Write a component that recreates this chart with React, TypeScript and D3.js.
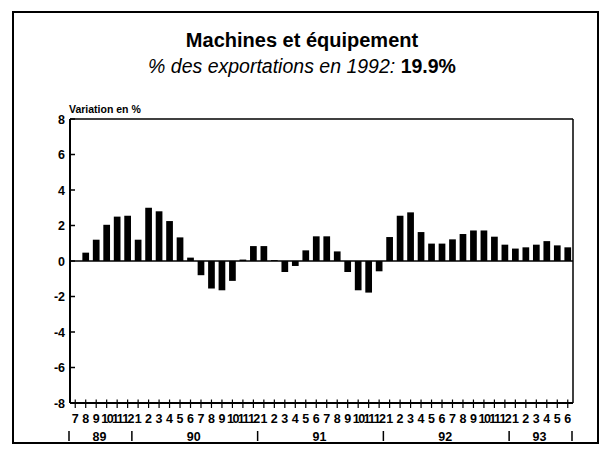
import React from "react";
import * as d3 from "d3";

// monthly % change, Jul 89 .. Jun 93 (Jul 89 has no bar)
const months = [
  "7", "8", "9", "10", "11", "12",
  "1", "2", "3", "4", "5", "6", "7", "8", "9", "10", "11", "12",
  "1", "2", "3", "4", "5", "6", "7", "8", "9", "10", "11", "12",
  "1", "2", "3", "4", "5", "6", "7", "8", "9", "10", "11", "12",
  "1", "2", "3", "4", "5", "6",
];
const values: (number | null)[] = [
  null, 0.47, 1.2, 2.04, 2.5, 2.55,
  1.2, 3.0, 2.8, 2.25, 1.33, 0.19, -0.8, -1.55, -1.65, -1.12, 0.08, 0.84,
  0.84, 0.05, -0.62, -0.28, 0.6, 1.39, 1.39, 0.54, -0.62, -1.65, -1.78, -0.58,
  1.35, 2.55, 2.74, 1.63, 0.98, 0.98, 1.22, 1.52, 1.72, 1.72, 1.37, 0.92,
  0.7, 0.77, 0.92, 1.12, 0.88, 0.77,
];
const years = ["89", "90", "91", "92", "93"];
const yearMonths = [6, 12, 12, 12, 6];
const yTicks = [8, 6, 4, 2, 0, -2, -4, -6, -8];

const W = 611;
const H = 456;
const left = 70;
const right = 573;
const top = 119;
const bottom = 403;
const font = "'Liberation Sans', Arial, Helvetica, sans-serif";

export default function App() {
  const idx = d3.range(months.length);
  const x = d3.scaleBand<number>().domain(idx).range([left, right]).paddingInner(0.36).paddingOuter(0.18);
  const xc = (i: number) => left + (right - left) * (i + 0.5) / months.length;
  const y = d3.scaleLinear().domain([-8, 8]).range([bottom, top]);

  // year groups
  let start = 0;
  const groups = years.map((yr, k) => {
    const g = { yr, s: start, e: start + yearMonths[k] - 1 };
    start += yearMonths[k];
    return g;
  });
  const bw = (right - left) / months.length;

  return (
    <svg width={W} height={H} style={{ position: "absolute", left: 0, top: 0, background: "#fff" }} fontFamily={font}>
      <rect x={13} y={12} width={585} height={431} fill="none" stroke="#000" strokeWidth={2} />

      <text x={302} y={47} textAnchor="middle" fontSize={20} fontWeight="bold">Machines et équipement</text>
      <text x={302} y={73} textAnchor="middle" fontSize={19.5}>
        <tspan fontStyle="italic" fontWeight={300}>% des exportations en 1992: </tspan>
        <tspan fontWeight="bold">19.9%</tspan>
      </text>
      <text x={69} y={113} fontSize={10.5} fontWeight="bold">Variation en %</text>

      {/* frame of plot */}
      <line x1={left} x2={right} y1={top} y2={top} stroke="#000" strokeWidth={1.5} />
      <line x1={right} x2={right} y1={top} y2={bottom} stroke="#000" strokeWidth={1.5} />
      <line x1={left} x2={left} y1={top} y2={bottom} stroke="#000" strokeWidth={2} />
      <line x1={left} x2={right} y1={bottom} y2={bottom} stroke="#000" strokeWidth={2} />
      <line x1={left} x2={right} y1={y(0)} y2={y(0)} stroke="#000" strokeWidth={1.5} />

      {yTicks.map((t) => (
        <g key={t}>
          <line x1={left} x2={left + 5} y1={y(t)} y2={y(t)} stroke="#000" strokeWidth={1.5} />
          <text x={65} y={y(t)} dy="0.36em" textAnchor="end" fontSize={12.5} fontWeight="bold">{t}</text>
        </g>
      ))}

      {values.map((v, i) =>
        v == null ? null : (
          <rect
            key={i}
            x={x(i)}
            width={x.bandwidth()}
            y={y(Math.max(0, v))}
            height={Math.abs(y(v) - y(0))}
            fill="#000"
          />
        )
      )}

      {months.map((m, i) => (
        <g key={i}>
          <line x1={xc(i)} x2={xc(i)} y1={bottom - 3.5} y2={bottom + 5} stroke="#000" strokeWidth={1.2} />
          <text x={xc(i)} y={423} textAnchor="middle" fontSize={12.5} fontWeight="bold" letterSpacing={m.length > 1 ? -1.5 : 0}>{m}</text>
        </g>
      ))}

      {groups.map((g) => (
        <g key={g.yr}>
          <line x1={left + g.s * bw - 1} x2={left + g.s * bw - 1} y1={431} y2={441} stroke="#000" strokeWidth={1.5} />
          <text x={(xc(g.s) + xc(g.e)) / 2 - 2} y={440.5} textAnchor="middle" fontSize={12.5} fontWeight="bold">{g.yr}</text>
        </g>
      ))}
      <line x1={right - 1} x2={right - 1} y1={431} y2={441} stroke="#000" strokeWidth={1.5} />
    </svg>
  );
}
